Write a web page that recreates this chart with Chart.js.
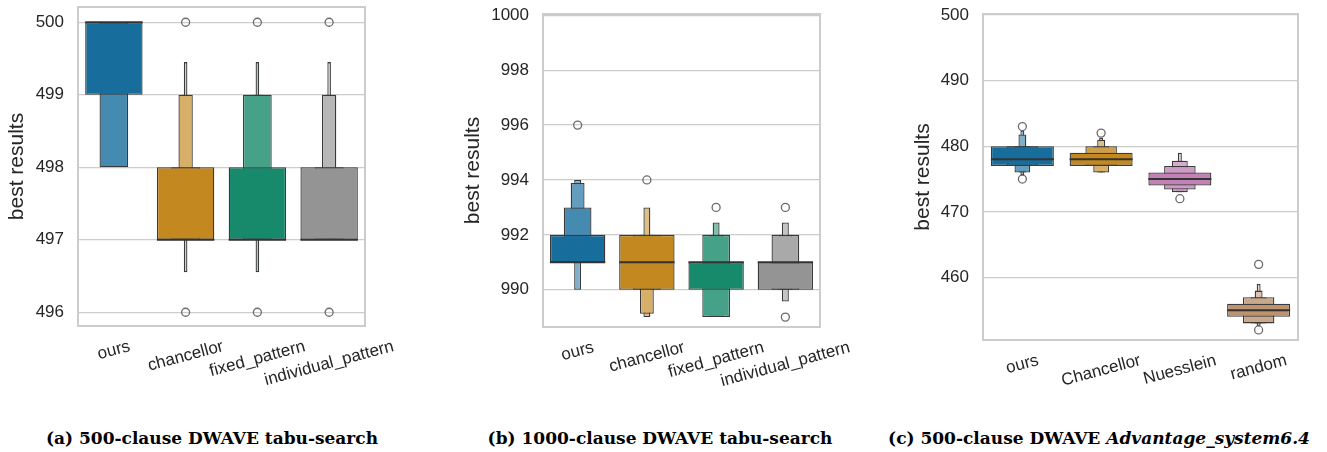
<!DOCTYPE html>
<html>
<head>
<meta charset="utf-8">
<script src="https://cdn.jsdelivr.net/npm/chart.js@4.4.1/dist/chart.umd.min.js"></script>
<style>
  body { margin: 0; background: #fff; width: 1327px; height: 452px; overflow: hidden; position: relative; }
  .panel { position: absolute; top: 0; height: 400px; }
  .caption { position: absolute; top: 428px; font: bold 17px 'DejaVu Serif', serif; color: #000; white-space: nowrap; transform: translateX(-50%); }
</style>
</head>
<body>
<div class="panel" style="left:0;width:420px"><canvas id="chartA"></canvas></div>
<div class="panel" style="left:456px;width:420px"><canvas id="chartB"></canvas></div>
<div class="panel" style="left:906px;width:421px"><canvas id="chartC"></canvas></div>
<div class="caption" style="left:212px">(a) 500-clause DWAVE tabu-search</div>
<div class="caption" style="left:660px">(b) 1000-clause DWAVE tabu-search</div>
<div class="caption" style="left:1099px">(c) 500-clause DWAVE <i>Advantage_system6.4</i></div>
<script>
'use strict';

// (a) 500-clause tabu-search
const aCategories = ['ours', 'chancellor', 'fixed_pattern', 'individual_pattern'];
const aLevels = [
  [[499, 500], [498, 500]],
  [[497, 498], [497, 498], [497, 499], [497, 499], [496.55, 499.45]],
  [[497, 498], [497, 499], [497, 499], [497, 499], [496.55, 499.45]],
  [[497, 498], [497, 498], [497, 499], [497, 499], [497, 499.45]]
];
const aMedians = [500, 497, 497, 497];
const aOutliers = [[], [500, 496], [500, 496], [500, 496]];
const aTicks = [496, 497, 498, 499, 500];

// (b) 1000-clause tabu-search
const bCategories = ['ours', 'chancellor', 'fixed_pattern', 'individual_pattern'];
const bLevels = [
  [[991, 992], [991, 993], [991, 993.89], [990, 994]],
  [[990, 992], [990, 992], [989.12, 992], [989, 993]],
  [[990, 991], [989, 992], [989, 992], [989, 992.45]],
  [[990, 991], [990, 992], [990, 992], [989.57, 992.45]]
];
const bMedians = [991, 991, 991, 991];
const bOutliers = [[996], [994], [993], [989, 993]];
const bTicks = [990, 992, 994, 996, 998, 1000];

// (c) 500-clause Advantage_system6.4
const cCategories = ['ours', 'Chancellor', 'Nuesslein', 'random'];
const cLevels = [
  [[477, 480], [477, 480], [476, 480], [476, 481.8], [475.6, 482.4]],
  [[477, 479], [477, 480], [476, 480], [476, 481], [476, 481.3]],
  [[474, 476], [473.4, 477], [473, 477.8], [473, 477.8], [473, 479]],
  [[454, 456], [453, 457], [453, 457], [453, 458], [452.6, 459]]
];
const cMedians = [478, 478, 475, 455];
const cOutliers = [[483, 475], [482], [472], [462, 452]];
const cTicks = [460, 470, 480, 490, 500];

const colorsAB = ['#176d9c', '#c3881f', '#168a6a', '#949494'];
const colorsC = ['#176d9c', '#c3881f', '#c282b6', '#bd926e'];
const levelShade = [0, 0.2, 0.33, 0.45, 0.58];
const sans = 'Liberation Sans';

function shade(hex, t) {
  let n = parseInt(hex.slice(1), 16);
  let c = [(n >> 16) & 255, (n >> 8) & 255, n & 255].map(v => Math.round(v + (255 - v) * t));
  return 'rgb(' + c.join(',') + ')';
}

const framePlugin = {
  id: 'frame',
  beforeDatasetsDraw(chart) {
    const a = chart.chartArea, ctx = chart.ctx;
    ctx.save();
    ctx.strokeStyle = '#cccccc';
    ctx.lineWidth = 2;
    ctx.strokeRect(a.left, a.top, a.right - a.left, a.bottom - a.top);
    ctx.restore();
  }
};

// rotated category labels, centred under each tick
const xLabelPlugin = {
  id: 'xlabels',
  afterDraw(chart) {
    const ctx = chart.ctx, xs = chart.scales.x, a = chart.chartArea;
    const ang = 15 * Math.PI / 180;
    ctx.save();
    ctx.font = '17px "' + sans + '"';
    ctx.fillStyle = '#262626';
    ctx.textAlign = 'center';
    ctx.textBaseline = 'middle';
    chart.data.labels.forEach((lab, i) => {
      const w = ctx.measureText(lab).width;
      const h = 19 * Math.cos(ang) + w * Math.sin(ang);
      ctx.save();
      ctx.translate(xs.getPixelForTick(i), a.bottom + 11 + h / 2);
      ctx.rotate(-ang);
      ctx.fillText(lab, 0, 0);
      ctx.restore();
    });
    ctx.restore();
  }
};

function boxenChart(id, categories, levels, medians, outliers, ticks, colors, box) {
  let datasets = [];
  categories.forEach((cat, i) => {
    levels[i].forEach((range, k) => {
      datasets.push({
        type: 'bar',
        data: categories.map((c, j) => j === i ? range : null),
        grouped: false,
        barPercentage: 0.8 / Math.pow(2, k),
        categoryPercentage: 1,
        backgroundColor: shade(colors[i], levelShade[k]),
        borderColor: '#3a3a3a',
        borderWidth: 1.3,
        borderSkipped: false,
        order: 10 + k
      });
    });
  });
  datasets.push({
    type: 'line',
    data: medians.map((m, i) => ({x: categories[i], y: m})),
    showLine: false,
    pointStyle: 'line',
    radius: ctx => ctx.chart.scales.x.width / categories.length * 0.4,
    borderColor: '#333333',
    borderWidth: 2,
    order: 1
  });
  datasets.push({
    type: 'line',
    data: outliers.flatMap((list, i) => list.map(v => ({x: categories[i], y: v}))),
    showLine: false,
    pointStyle: 'circle',
    radius: 4,
    borderColor: '#6b6b6b',
    backgroundColor: 'rgba(0,0,0,0)',
    borderWidth: 1.3,
    order: 0
  });

  new Chart(document.getElementById(id), {
    type: 'bar',
    data: { labels: categories, datasets: datasets },
    options: {
      responsive: true,
      maintainAspectRatio: false,
      animation: false,
      layout: { padding: { top: box.top, right: box.right, left: 0, bottom: 0 } },
      plugins: { legend: { display: false }, tooltip: { enabled: false } },
      scales: {
        x: {
          afterFit: s => { s.height = box.xHeight; s.paddingLeft = 0; s.paddingRight = 0; },
          ticks: { display: false },
          grid: { display: false },
          border: { display: false }
        },
        y: {
          min: box.min,
          max: box.max,
          afterBuildTicks: s => { s.ticks = ticks.map(v => ({value: v})); },
          afterFit: s => { s.width = box.yWidth; s.paddingTop = 0; s.paddingBottom = 0; },
          ticks: { callback: v => String(v), font: { family: sans, size: 17 }, color: '#262626', padding: 14 },
          grid: { color: '#cccccc', lineWidth: 1.3, drawTicks: false },
          border: { display: false },
          title: { display: true, text: 'best results', color: '#262626', font: { family: sans, size: 21 }, padding: { top: 4.4, bottom: 0 } }
        }
      }
    },
    plugins: [framePlugin, xLabelPlugin]
  });
}

boxenChart('chartA', aCategories, aLevels, aMedians, aOutliers, aTicks, colorsAB,
  { top: 7, right: 55, xHeight: 74, yWidth: 78, min: 495.81, max: 500.21 });
boxenChart('chartB', bCategories, bLevels, bMedians, bOutliers, bTicks, colorsAB,
  { top: 14, right: 56, xHeight: 73, yWidth: 87, min: 988.64, max: 1000.05 });
boxenChart('chartC', cCategories, cLevels, cMedians, cOutliers, cTicks, colorsC,
  { top: 14, right: 29, xHeight: 60, yWidth: 77, min: 450.47, max: 500.15 });
</script>
</body>
</html>
